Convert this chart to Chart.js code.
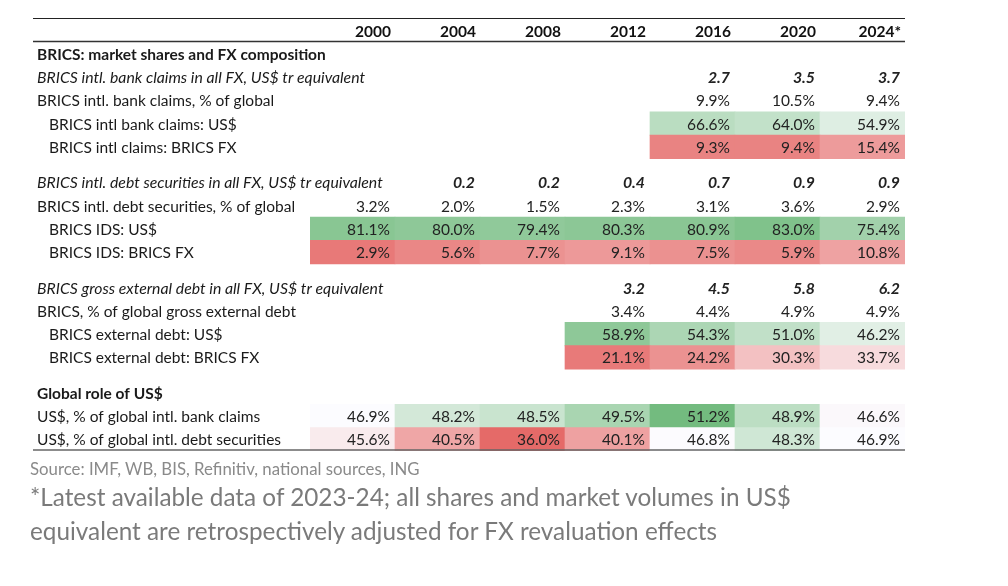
<!DOCTYPE html>
<html>
<head>
<meta charset="utf-8">
<script src="https://cdn.jsdelivr.net/npm/chart.js@4.4.1/dist/chart.umd.min.js"></script>
<style>
  html, body { margin: 0; padding: 0; background: #fff; }
  #wrap { position: relative; width: 1008px; height: 586px; overflow: hidden; }
  #tbl { position: absolute; left: 0; top: 0; }
  .src { position: absolute; left: 30px; top: 458px; font: 16.8px Lato, sans-serif; color: #8a8a8a; }
  .note { position: absolute; left: 30px; top: 480px; font: 24.3px Lato, sans-serif; line-height: 34px; color: #7a7a7a; }
</style>
</head>
<body>
<div id="wrap">
  <canvas id="tbl" width="1008" height="460"></canvas>
  <div class="src">Source: IMF, WB, BIS, Refinitiv, national sources, ING</div>
  <div class="note">*Latest available data of 2023-24; all shares and market volumes in US$<br>equivalent are retrospectively adjusted for FX revaluation effects</div>
</div>
<script>
/* ---------- data ---------- */
const years = ['2000', '2004', '2008', '2012', '2016', '2020', '2024*'];

const bankClaimsTr    = [null, null, null, null, 2.7, 3.5, 3.7];
const bankClaimsShare = [null, null, null, null, 9.9, 10.5, 9.4];
const bankClaimsUsd   = [null, null, null, null, 66.6, 64.0, 54.9];
const bankClaimsBrics = [null, null, null, null, 9.3, 9.4, 15.4];

const idsTr    = [null, 0.2, 0.2, 0.4, 0.7, 0.9, 0.9];
const idsShare = [3.2, 2.0, 1.5, 2.3, 3.1, 3.6, 2.9];
const idsUsd   = [81.1, 80.0, 79.4, 80.3, 80.9, 83.0, 75.4];
const idsBrics = [2.9, 5.6, 7.7, 9.1, 7.5, 5.9, 10.8];

const extTr    = [null, null, null, 3.2, 4.5, 5.8, 6.2];
const extShare = [null, null, null, 3.4, 4.4, 4.9, 4.9];
const extUsd   = [null, null, null, 58.9, 54.3, 51.0, 46.2];
const extBrics = [null, null, null, 21.1, 24.2, 30.3, 33.7];

const usdBankClaims = [46.9, 48.2, 48.5, 49.5, 51.2, 48.9, 46.6];
const usdDebtSec    = [45.6, 40.5, 36.0, 40.1, 46.8, 48.3, 46.9];

/* ---------- rows (label, values, kind) ---------- */
const rows = [
  { label: 'BRICS: market shares and FX composition', kind: 'title' },
  { label: 'BRICS intl. bank claims in all FX, US$ tr equivalent', values: bankClaimsTr, kind: 'tr' },
  { label: 'BRICS intl. bank claims, % of global', values: bankClaimsShare, kind: 'pct' },
  { label: 'BRICS intl bank claims: US$', values: bankClaimsUsd, kind: 'pct', indent: true, scale: { hue: 'green', lo: 45, hi: 90 } },
  { label: 'BRICS intl claims: BRICS FX', values: bankClaimsBrics, kind: 'pct', indent: true, scale: { hue: 'red', lo: 3, hi: 40 } },
  { label: 'BRICS intl. debt securities in all FX, US$ tr equivalent', values: idsTr, kind: 'tr', gap: true },
  { label: 'BRICS intl. debt securities, % of global', values: idsShare, kind: 'pct' },
  { label: 'BRICS IDS: US$', values: idsUsd, kind: 'pct', indent: true, scale: { hue: 'green', lo: 55, hi: 86 } },
  { label: 'BRICS IDS: BRICS FX', values: idsBrics, kind: 'pct', indent: true, scale: { hue: 'red', lo: 0, hi: 28 } },
  { label: 'BRICS gross external debt in all FX, US$ tr equivalent', values: extTr, kind: 'tr', gap: true },
  { label: 'BRICS, % of global gross external debt', values: extShare, kind: 'pct' },
  { label: 'BRICS external debt: US$', values: extUsd, kind: 'pct', indent: true, scale: { hue: 'green', lo: 42, hi: 63 } },
  { label: 'BRICS external debt: BRICS FX', values: extBrics, kind: 'pct', indent: true, scale: { hue: 'red', lo: 19, hi: 38 } },
  { label: 'Global role of US$', kind: 'title', gap: true },
  { label: 'US$, % of global intl. bank claims', values: usdBankClaims, kind: 'pct', scale: { hue: 'div', lo: 36.0, mid: 46.9, hi: 51.2 } },
  { label: 'US$, % of global intl. debt securities', values: usdDebtSec, kind: 'pct', scale: { hue: 'div', lo: 36.0, mid: 46.9, hi: 51.2 } },
];

/* ---------- layout helpers ---------- */
const GAP = 0.53;
let cursor = 0;
rows.forEach(r => {
  if (r.gap) cursor += GAP;
  r.pos = cursor + 0.5;
  cursor += 1;
});
const yMax = cursor;

const WHITE = [252, 252, 255];
const GREEN = [108, 184, 120];
const RED   = [228, 98, 96];
const mix = (c, t) => {
  t = Math.max(0, Math.min(1, t)) * 0.95;
  return `rgb(${WHITE.map((w, i) => Math.round(w + (c[i] - w) * t)).join(',')})`;
};
function cellColor(s, v) {
  if (s.hue === 'green') return mix(GREEN, (v - s.lo) / (s.hi - s.lo));
  if (s.hue === 'red') return mix(RED, (s.hi - v) / (s.hi - s.lo));
  if (v >= s.mid) return mix(GREEN, (v - s.mid) / (s.hi - s.mid));
  return mix(RED, (s.mid - v) / (s.mid - s.lo));
}

const cells = [];
rows.forEach(r => {
  if (!r.scale) return;
  r.values.forEach((v, c) => {
    if (v === null) return;
    cells.push({ x: [c, c + 1], y: r.pos, color: cellColor(r.scale, v) });
  });
});

/* ---------- text + rules ---------- */
const FONT = 'Lato, "Noto Sans", sans-serif';
const FS = '15.5px';
const FS_IT = '15.8px';
const tableText = {
  id: 'tableText',
  afterDatasetsDraw(chart) {
    const { ctx, scales: { x, y } } = chart;
    const left = 33, right = x.getPixelForValue(years.length);
    ctx.save();

    const rule = (py, w, col) => {
      ctx.strokeStyle = col; ctx.lineWidth = w;
      ctx.beginPath(); ctx.moveTo(left, py); ctx.lineTo(right, py); ctx.stroke();
    };
    rule(Math.round(y.getPixelForValue(-1)) - 0.5, 1, '#222');
    rule(Math.round(y.getPixelForValue(0)) - 0.5, 1.5, '#333');
    rule(Math.round(y.getPixelForValue(yMax)) - 1, 1.5, '#666');

    ctx.textBaseline = 'middle';
    ctx.fillStyle = '#111';
    // header years
    ctx.font = `bold ${FS} ${FONT}`;
    ctx.textAlign = 'right';
    years.forEach((yr, c) => ctx.fillText(yr, x.getPixelForValue(c + 1) - 4, y.getPixelForValue(-0.5) + 1));

    rows.forEach(r => {
      const py = y.getPixelForValue(r.pos) + 1;
      ctx.textAlign = 'left';
      ctx.fillStyle = '#1a1a1a';
      ctx.font = r.kind === 'title' ? `bold ${FS} ${FONT}` : r.kind === 'tr' ? `italic ${FS_IT} ${FONT}` : `${FS} ${FONT}`;
      ctx.fillText(r.label, r.indent ? 49 : 37, py);
      if (!r.values) return;
      ctx.textAlign = 'right';
      ctx.fillStyle = '#222';
      ctx.font = r.kind === 'tr' ? `italic bold ${FS_IT} ${FONT}` : `${FS} ${FONT}`;
      r.values.forEach((v, c) => {
        if (v === null) return;
        const txt = r.kind === 'tr' ? v.toFixed(1) : v.toFixed(1) + '%';
        ctx.fillText(txt, x.getPixelForValue(c + 1) - 5, py);
      });
    });
    ctx.restore();
  }
};

/* ---------- chart ---------- */
const PAD = { left: 310, right: 103, top: 19, bottom: 9 };
const canvas = document.getElementById('tbl');
const unitPx = (canvas.height - PAD.top - PAD.bottom) / (yMax + 1);

new Chart(canvas, {
  type: 'bar',
  data: {
    datasets: [{
      data: cells,
      backgroundColor: c => (c.raw ? c.raw.color : 'transparent'),
      borderWidth: 0,
      barThickness: unitPx + 0.4,
      grouped: false,
    }],
  },
  options: {
    indexAxis: 'y',
    responsive: false,
    animation: false,
    layout: { padding: PAD },
    scales: {
      x: { type: 'linear', min: 0, max: years.length, display: false, offset: false },
      y: { type: 'linear', min: -1, max: yMax, reverse: true, display: false, offset: false },
    },
    plugins: { legend: { display: false }, tooltip: { enabled: false } },
  },
  plugins: [tableText],
});
</script>
</body>
</html>
